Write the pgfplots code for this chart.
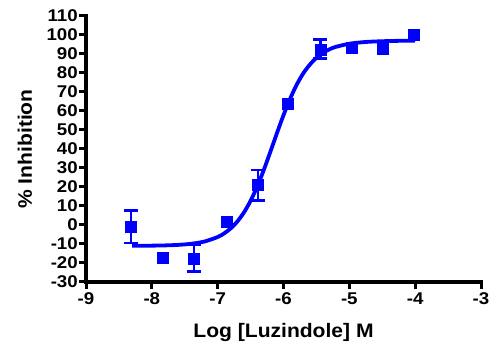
\documentclass[border=0pt]{standalone}
\usepackage{pgfplots}
\pgfplotsset{compat=1.18}
\usepackage{fontspec}
\setmainfont{Liberation Sans}
\newfontfamily\tickfont{Liberation Sans}[FakeStretch=1.1]
\newfontfamily\labfont{Liberation Sans}[FakeStretch=1.08]
\definecolor{gpblue}{RGB}{0,0,255}
\begin{document}
\begin{tikzpicture}
\useasboundingbox (-86pt,-62pt) rectangle (408pt,282pt);
\begin{axis}[
  at={(0,0)}, anchor=south west,
  scale only axis,
  width=395pt, height=266pt,
  xmin=-9, xmax=-3, ymin=-30, ymax=110,
  axis x line*=bottom, axis y line*=left,
  axis line style={line width=3.5pt, line cap=rect},
  xtick={-9,-8,-7,-6,-5,-4,-3},
  xticklabels={-9,-8,-7,-6,-5,-4,-3},
  ytick={-30,-20,-10,0,10,20,30,40,50,60,70,80,90,100,110},
  yticklabels={-30,-20,-10,0,10,20,30,40,50,60,70,80,90,100,110},
  tick align=outside,
  major tick length=7pt,
  tick style={line width=3pt, black},
  x tick label style={font=\fontsize{17}{17}\selectfont\tickfont\bfseries, yshift=-0.5pt},
  y tick label style={font=\fontsize{17}{17}\selectfont\tickfont\bfseries, inner xsep=1pt},
  xlabel={Log [Luzindole] M},
  ylabel={\% Inhibition},
  label style={font=\fontsize{19.5}{19.5}\selectfont\labfont\bfseries},
  xlabel style={at={(axis description cs:0.5,0)}, anchor=center, yshift=-51pt},
  ylabel style={at={(axis description cs:0,0.5)}, anchor=center, yshift=61pt},
  clip=false,
]
\addplot[gpblue, line width=3.8pt, smooth] coordinates {
(-8.3,-10.96) (-8.0,-10.87) (-7.8,-10.74) (-7.6,-10.46) (-7.4,-9.88)
(-7.2,-8.70) (-7.0,-6.32) (-6.9,-4.39) (-6.8,-1.72) (-6.7,1.89)
(-6.6,6.65) (-6.5,12.74) (-6.4,20.2) (-6.3,28.9) (-6.2,38.5)
(-6.1,48.3) (-6.0,57.8) (-5.9,66.4) (-5.8,73.8) (-5.7,79.8)
(-5.6,84.4) (-5.5,88.0) (-5.4,90.6) (-5.3,92.5) (-5.2,93.8)
(-5.0,95.4) (-4.8,96.2) (-4.6,96.6) (-4.3,96.9) (-4.0,96.96)
};
\addplot[gpblue, only marks, mark=square*, mark size=5.5pt,
  mark options={draw=gpblue, fill=gpblue},
  error bars/.cd, y dir=both, y explicit,
  error bar style={line width=2.5pt, gpblue},
  error mark options={rotate=90, mark size=7pt, line width=2.5pt, gpblue}]
coordinates {
(-8.32,-1) +- (0,8.5)
(-7.36,-17.5) +- (0,7)
(-6.39,21) +- (0,8)
(-5.44,92.5) +- (0,5)
};
\addplot[gpblue, only marks, mark=square*, mark size=5.5pt,
  mark options={draw=gpblue, fill=gpblue}]
coordinates {
(-7.83,-17)
(-6.87,1.5)
(-5.93,64)
(-4.97,93.5)
(-4.50,93)
(-4.02,100)
};
\end{axis}
\end{tikzpicture}
\end{document}
